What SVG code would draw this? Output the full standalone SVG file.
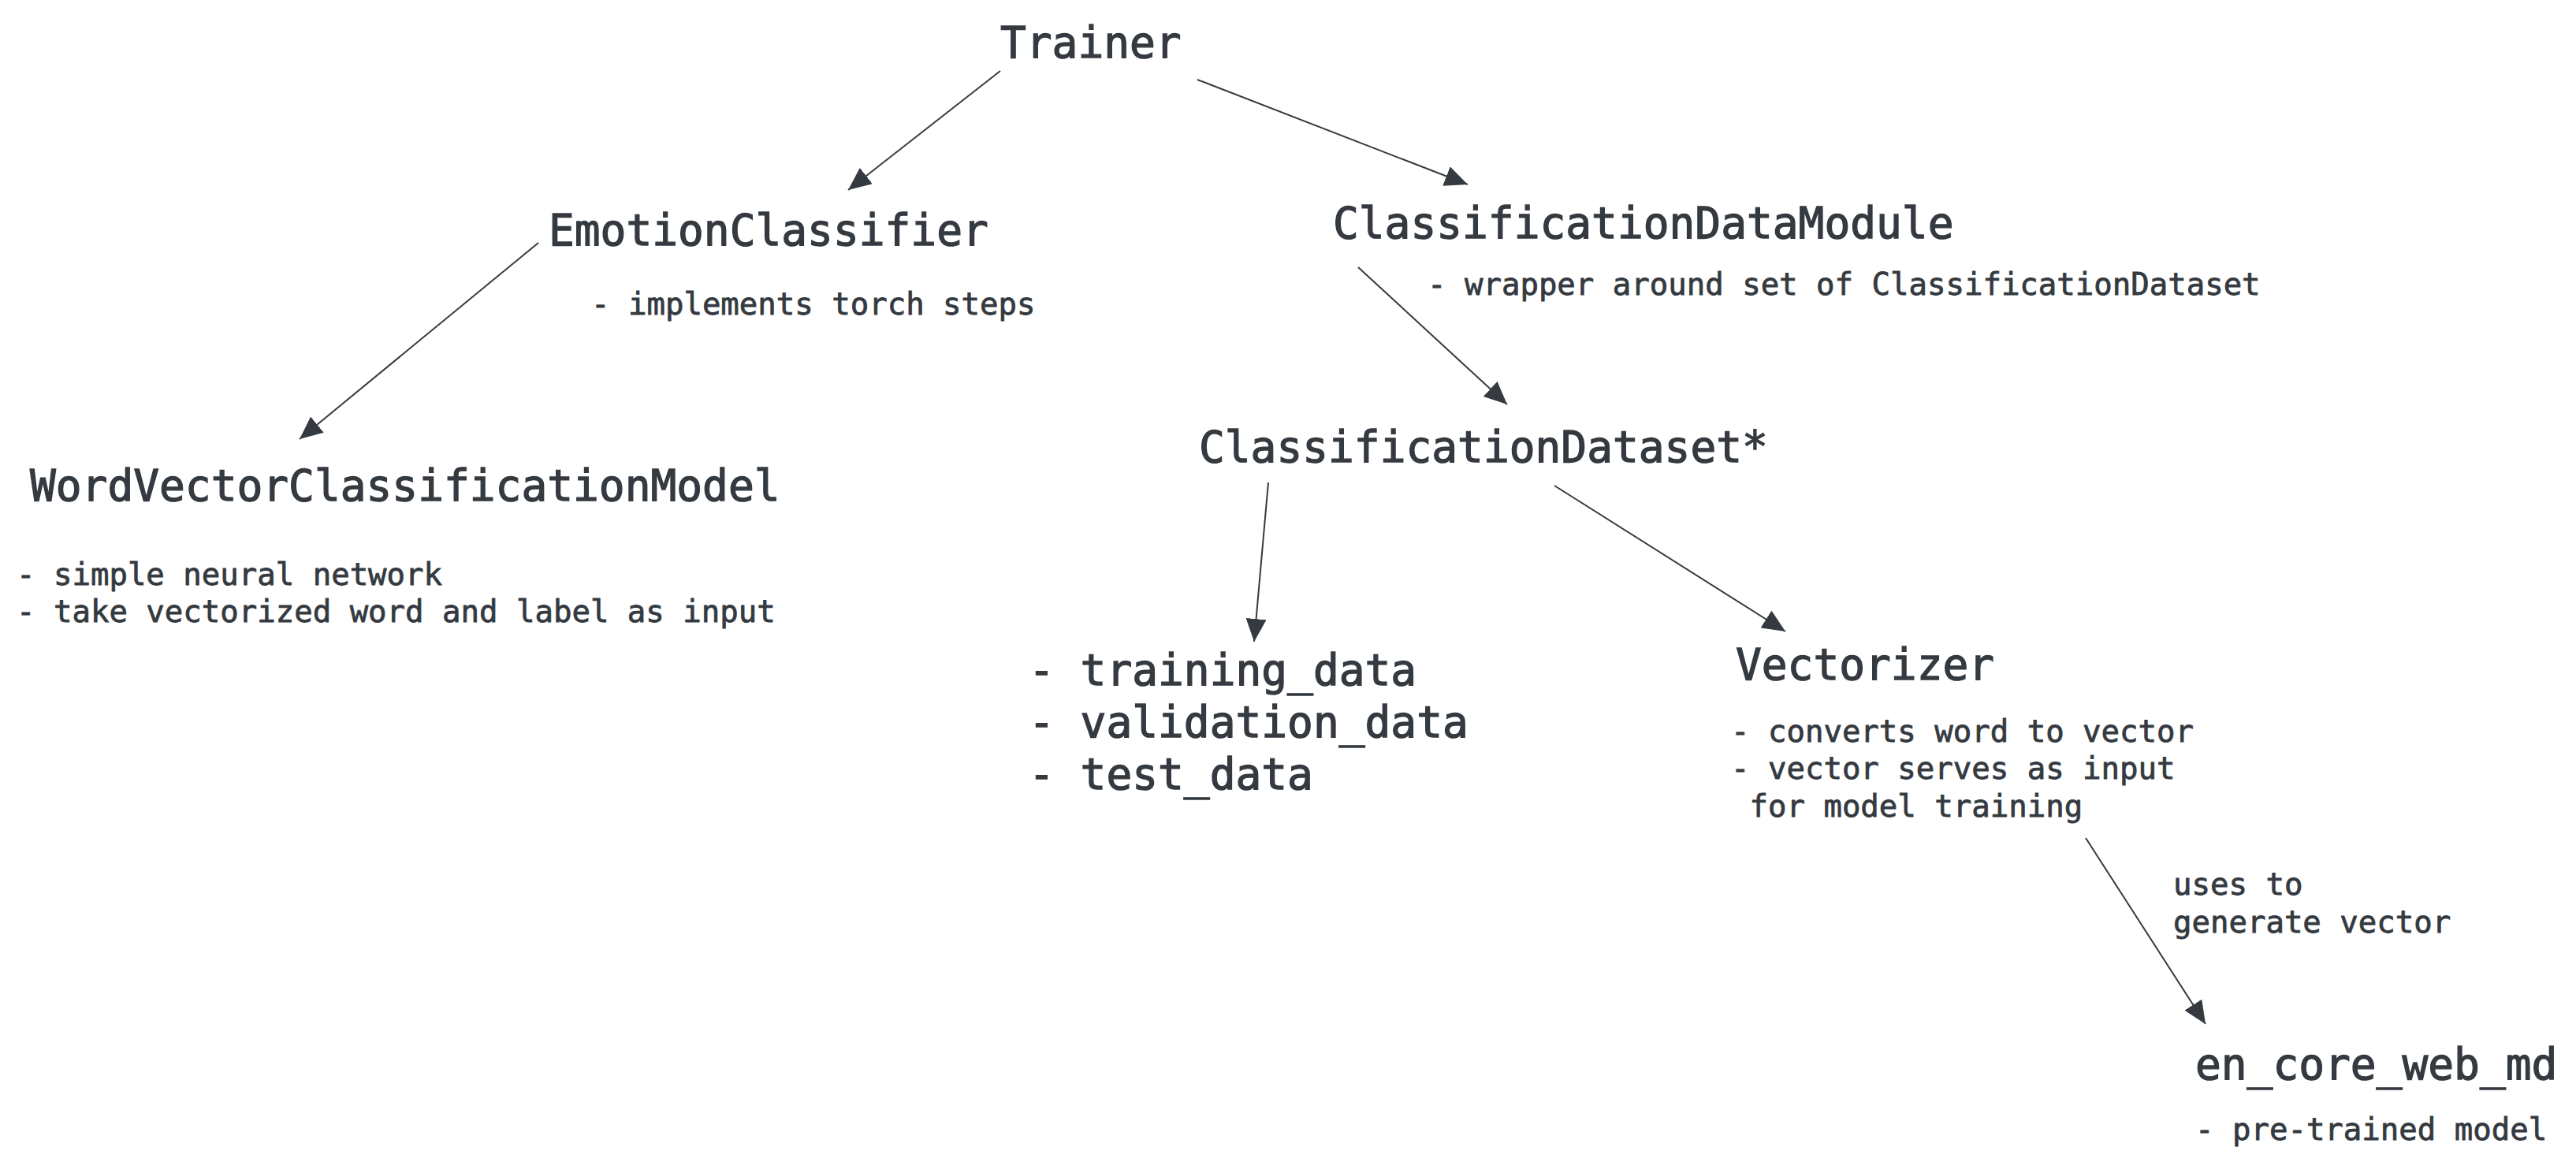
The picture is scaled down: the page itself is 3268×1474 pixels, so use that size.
<svg xmlns="http://www.w3.org/2000/svg" width="3268" height="1474" viewBox="0 0 3268 1474">
<defs>
<style>
text{font-family:"DejaVu Sans Mono","Liberation Mono",monospace;fill:#343a40;stroke:#343a40;}
.t{font-size:54.5px;stroke-width:1.3px;}
.s{font-size:39px;stroke-width:0.8px;}
.c{stroke:#343a40;stroke-width:2;fill:none;marker-end:url(#ah);}
</style>
<marker id="ah" viewBox="0 0 29 26" refX="29" refY="13" markerWidth="29" markerHeight="26" markerUnits="userSpaceOnUse" orient="auto">
<path d="M0,0 L29,13 L0,26 z" fill="#343a40"/>
</marker>
</defs>
<rect width="3268" height="1474" fill="#ffffff"/>
<g id="connectors">
<line class="c" x1="1269" y1="90" x2="1076" y2="241"/>
<line class="c" x1="1519" y1="101" x2="1862" y2="234"/>
<line class="c" x1="683" y1="308" x2="380" y2="557"/>
<line class="c" x1="1723" y1="339" x2="1912" y2="513"/>
<line class="c" x1="1609" y1="612" x2="1591" y2="814"/>
<line class="c" x1="1972" y1="616" x2="2265" y2="801"/>
<line class="c" x1="2646" y1="1063" x2="2798" y2="1299"/>
<text class="s" x="2757" y="1135">uses to</text>
<text class="s" x="2757" y="1183">generate vector</text>
</g>
<g id="trainer"><text class="t" x="1269" y="73">Trainer</text></g>
<g id="emotion-classifier">
<text class="t" x="696" y="311">EmotionClassifier</text>
<text class="s" x="750" y="399">- implements torch steps</text>
</g>
<g id="classification-data-module">
<text class="t" x="1691" y="302">ClassificationDataModule</text>
<text class="s" x="1811" y="374">- wrapper around set of ClassificationDataset</text>
</g>
<g id="word-vector-model">
<text class="t" x="38" y="635">WordVectorClassificationModel</text>
<text class="s" x="21" y="742">- simple neural network</text>
<text class="s" x="21" y="789">- take vectorized word and label as input</text>
</g>
<g id="classification-dataset">
<text class="t" x="1521" y="586">ClassificationDataset*</text>
</g>
<g id="data-splits">
<text class="t" x="1305" y="869">- training_data</text>
<text class="t" x="1305" y="935">- validation_data</text>
<text class="t" x="1305" y="1001">- test_data</text>
</g>
<g id="vectorizer">
<text class="t" x="2202" y="862">Vectorizer</text>
<text class="s" x="2196" y="941">- converts word to vector</text>
<text class="s" x="2196" y="988">- vector serves as input</text>
<text class="s" x="2196" y="1036" xml:space="preserve"> for model training</text>
</g>
<g id="en-core-web-md">
<text class="t" x="2785" y="1369">en_core_web_md</text>
<text class="s" x="2785" y="1446">- pre-trained model</text>
</g>
</svg>
